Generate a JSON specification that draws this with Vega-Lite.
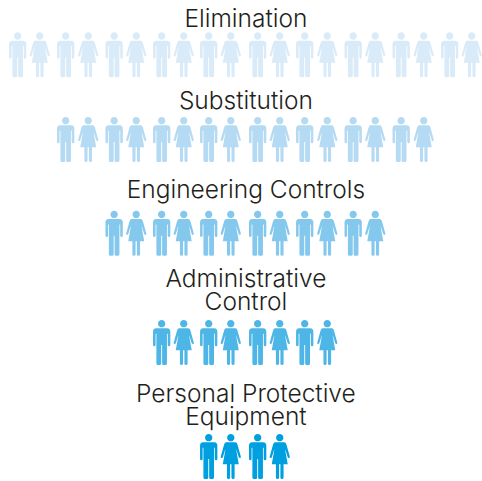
{"$schema":"https://vega.github.io/schema/vega-lite/v6.json","width":482,"height":481,"padding":0,"autosize":{"type":"fit","contains":"padding"},"background":"white","view":{"stroke":null},
"datasets":{"people":[
{"tier":"1","h":11.4,"pos":1.0,"g":"man"},{"tier":"1","h":11.4,"pos":1.46,"g":"woman"},{"tier":"1","h":11.4,"pos":2.0,"g":"man"},{"tier":"1","h":11.4,"pos":2.47,"g":"woman"},{"tier":"1","h":11.4,"pos":3.01,"g":"man"},{"tier":"1","h":11.4,"pos":3.47,"g":"woman"},{"tier":"1","h":11.4,"pos":4.0,"g":"man"},{"tier":"1","h":11.4,"pos":4.46,"g":"woman"},{"tier":"1","h":11.4,"pos":4.98,"g":"man"},{"tier":"1","h":11.4,"pos":5.44,"g":"woman"},{"tier":"1","h":11.4,"pos":6.0,"g":"man"},{"tier":"1","h":11.4,"pos":6.46,"g":"woman"},{"tier":"1","h":11.4,"pos":6.98,"g":"man"},{"tier":"1","h":11.4,"pos":7.45,"g":"woman"},{"tier":"1","h":11.4,"pos":7.99,"g":"man"},{"tier":"1","h":11.4,"pos":8.45,"g":"woman"},{"tier":"1","h":11.4,"pos":8.99,"g":"man"},{"tier":"1","h":11.4,"pos":9.46,"g":"woman"},{"tier":"1","h":11.4,"pos":10.0,"g":"man"},{"tier":"1","h":11.4,"pos":10.46,"g":"woman"},
{"tier":"2","h":29.0,"pos":2.0,"g":"man"},{"tier":"2","h":29.0,"pos":2.47,"g":"woman"},{"tier":"2","h":29.0,"pos":3.01,"g":"man"},{"tier":"2","h":29.0,"pos":3.47,"g":"woman"},{"tier":"2","h":29.0,"pos":4.0,"g":"man"},{"tier":"2","h":29.0,"pos":4.46,"g":"woman"},{"tier":"2","h":29.0,"pos":4.98,"g":"man"},{"tier":"2","h":29.0,"pos":5.44,"g":"woman"},{"tier":"2","h":29.0,"pos":6.0,"g":"man"},{"tier":"2","h":29.0,"pos":6.46,"g":"woman"},{"tier":"2","h":29.0,"pos":6.98,"g":"man"},{"tier":"2","h":29.0,"pos":7.45,"g":"woman"},{"tier":"2","h":29.0,"pos":7.99,"g":"man"},{"tier":"2","h":29.0,"pos":8.45,"g":"woman"},{"tier":"2","h":29.0,"pos":8.99,"g":"man"},{"tier":"2","h":29.0,"pos":9.46,"g":"woman"},
{"tier":"3","h":48.5,"pos":3.01,"g":"man"},{"tier":"3","h":48.5,"pos":3.47,"g":"woman"},{"tier":"3","h":48.5,"pos":4.0,"g":"man"},{"tier":"3","h":48.5,"pos":4.46,"g":"woman"},{"tier":"3","h":48.5,"pos":4.98,"g":"man"},{"tier":"3","h":48.5,"pos":5.44,"g":"woman"},{"tier":"3","h":48.5,"pos":6.0,"g":"man"},{"tier":"3","h":48.5,"pos":6.46,"g":"woman"},{"tier":"3","h":48.5,"pos":6.98,"g":"man"},{"tier":"3","h":48.5,"pos":7.45,"g":"woman"},{"tier":"3","h":48.5,"pos":7.99,"g":"man"},{"tier":"3","h":48.5,"pos":8.45,"g":"woman"},
{"tier":"4","h":71.2,"pos":4.0,"g":"man"},{"tier":"4","h":71.2,"pos":4.46,"g":"woman"},{"tier":"4","h":71.2,"pos":4.98,"g":"man"},{"tier":"4","h":71.2,"pos":5.44,"g":"woman"},{"tier":"4","h":71.2,"pos":6.0,"g":"man"},{"tier":"4","h":71.2,"pos":6.46,"g":"woman"},{"tier":"4","h":71.2,"pos":6.98,"g":"man"},{"tier":"4","h":71.2,"pos":7.45,"g":"woman"},
{"tier":"5","h":94.9,"pos":4.98,"g":"man"},{"tier":"5","h":94.9,"pos":5.44,"g":"woman"},{"tier":"5","h":94.9,"pos":6.0,"g":"man"},{"tier":"5","h":94.9,"pos":6.46,"g":"woman"}
],
"labels":[
{"text":"Elimination","h":4.2},{"text":"Substitution","h":21.25},{"text":"Engineering Controls","h":39.75},{"text":"Administrative","h":58.25},{"text":"Control","h":63.05},{"text":"Personal Protective","h":82.15},{"text":"Equipment","h":86.95}
]},
"layer":[
{"data":{"name":"people"},"mark":{"type":"point","filled":true,"opacity":1,"size":2025},
"encoding":{
"x":{"field":"pos","type":"quantitative","scale":{"domain":[0.632,10.632],"nice":false,"zero":false},"axis":null},
"y":{"field":"h","type":"quantitative","scale":{"domain":[0,100],"reverse":true,"nice":false},"axis":null},
"color":{"field":"tier","type":"nominal","legend":null,"scale":{"domain":["1","2","3","4","5"],"range":["#d9ebf8","#b5daf3","#85c8ed","#4db6e7","#009fdf"]}},
"shape":{"field":"g","type":"nominal","legend":null,"scale":{"domain":["man","woman"],"range":[
"M-0.163 -0.837A0.163 0.163 0 1 1 0.163 -0.837A0.163 0.163 0 1 1 -0.163 -0.837ZM-0.25 -0.63L0.25 -0.63Q0.385 -0.63 0.385 -0.47L0.385 0.1Q0.385 0.17 0.33 0.17Q0.27 0.17 0.27 0.1L0.27 -0.39L0.235 -0.39L0.235 0.93Q0.235 1 0.16 1L0.09 1Q0.02 1 0.02 0.93L0.02 0.11L-0.02 0.11L-0.02 0.93Q-0.02 1 -0.09 1L-0.16 1Q-0.235 1 -0.235 0.93L-0.235 -0.39L-0.27 -0.39L-0.27 0.1Q-0.27 0.17 -0.33 0.17Q-0.385 0.17 -0.385 0.1L-0.385 -0.47Q-0.385 -0.63 -0.25 -0.63Z",
"M-0.163 -0.837A0.163 0.163 0 1 1 0.163 -0.837A0.163 0.163 0 1 1 -0.163 -0.837ZM-0.2 -0.63L0.2 -0.63Q0.27 -0.63 0.3 -0.52L0.445 0Q0.46 0.07 0.41 0.07Q0.37 0.08 0.35 0.02L0.25 -0.3L0.24 -0.3L0.355 0.35L0.17 0.35L0.17 0.93Q0.17 1 0.1 1Q0.03 1 0.03 0.93L0.03 0.35L-0.03 0.35L-0.03 0.93Q-0.03 1 -0.1 1Q-0.17 1 -0.17 0.93L-0.17 0.35L-0.355 0.35L-0.24 -0.3L-0.25 -0.3L-0.35 0.02Q-0.37 0.08 -0.41 0.07Q-0.46 0.07 -0.445 0L-0.3 -0.52Q-0.27 -0.63 -0.2 -0.63Z"
]}}
}},
{"data":{"name":"labels"},"mark":{"type":"text","font":"Inter","fontWeight":300,"fontSize":24.5,"color":"#231f20","align":"center","baseline":"middle"},
"encoding":{
"text":{"field":"text","type":"nominal"},
"x":{"datum":5.755,"type":"quantitative"},
"y":{"field":"h","type":"quantitative"}
}}
],
"config":{"style":{"cell":{"stroke":null}}}}
